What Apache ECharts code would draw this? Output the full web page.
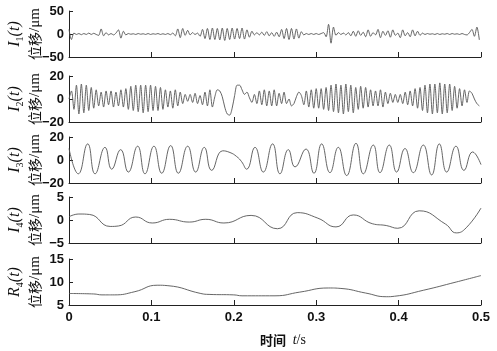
<!DOCTYPE html>
<html><head><meta charset="utf-8">
<script src="https://cdn.jsdelivr.net/npm/echarts@6/dist/echarts.min.js"></script>
<style>html,body{margin:0;padding:0;background:#fff}#c{width:497px;height:351px}</style>
</head><body><div id="c"></div>
<script>
// ---- data ----
// panel 1: I1(t), sampled every 3 ms
const step1 = 0.003;
const v1 = [10,-12,2,-1,1,-1.5,1,-1,2,-1,1.5,-1,-3,11,-4,3,-2,1,-2,2,9,-9,6,-2,
  1,-0.5,0.5,-1,1,-0.5,0.5,-1,1,-1,0.5,-0.5,1,-1,0.5,-1,1,-1.5,2,
  -4,11,-8,12,-3,8,-2,3,-1,2,-5,
  10,-10,12,-12,13,-12,12,-13,13,-14,12,-12,13,-11,12,-10,13,-11,9,-7,6,
  -2,3,-2,4,-3,5,-4,3,-5,4,
  -6,10,-10,12,-12,12,-11,11,-9,
  5,-2,1,-1,1,-1,1,-1,1,
  3,-6,21,-20,15,-3,3,
  -1,2,-2,3,-4,6,
  -5,7,-3,4,-6,9,-5,3,-2,10,-8,6,-3,7,-7,9,-3,2,-8,9,-4,3,-6,9,-4,6,-3,2,
  -1,1,-0.5,0.5,-1,1,-1,0.5,-0.5,1,-1,1,-0.5,0.5,-1,1,-1,
  -2,3,10,-5,15,-13];
// panel 2: I2(t), sampled every 3 ms
const step2 = 0.003;
const v2 = [0,7,-9,12,-13,13,-12,12,-10,10,-8,8,-6,6,-7,7,-5,7,-7,6,
  -6,8,-7,9,-9,11,-10,12,-11,12,-12,12,-11,12,-10,11,-10,10,-9,8,
  -7,7,-8,8,-6,6,-4,4,-2,4,-3,5,-4,3,-5,6,-6,8,-7,2,
  8,7,2,-7,-13,-14,-8,3,12,12,8,4,6,1,-3,4,-4,7,-5,8,
  -6,7,-6,8,-6,5,-4,6,-4,0,-6,-4,2,6,3,-5,7,-7,8,-8,
  9,-8,9,-9,10,-10,12,-11,13,-12,12,-13,13,-11,12,-12,10,-9,11,-8,
  10,-7,8,-6,7,-6,8,-7,6,-4,5,-3,4,-3,4,-4,6,-5,7,-6,
  9,-8,10,-10,12,-12,13,-13,13,-12,14,-13,13,-12,13,-10,11,-8,9,-6,
  8,-3,7,5,0,-4,-6];
// panel 3: I3(t), extrema (ms, µm)
const t3 = [0,11.3,22.7,31.6,43.7,51.8,62.7,72,83.3,92.2,103.1,112.5,123.4,132.7,144,153.7,164.2,173.1,186.5,195.4,203.5,209.5,215.6,225.7,235.8,247.1,256,266.2,274.3,287.6,297.3,306.6,316.7,326.8,337,348.3,357.2,369.3,377.4,388.7,397.6,407.7,417.9,430,440.1,449.4,458.3,469.6,479.3,489.8,500];
const v3 = [10,-12,14,-12,11,-8,9,-10.5,12,-12,12,-11.5,12.5,-11.5,12,-10.5,11,-9,8,6.5,3,-1.5,-8,11,-10.5,14,-12,9,-6,9.5,-11.5,14,-11,11,-13.5,14.5,-12,13,-11,13,-10.5,10,-11,13,-13,14,-10.5,12,-9,7,-4];
// panel 4: I4(t)
const t4 = [0,12,25,50,60,81,101,122,146,166,188,221,253,277,302,324,345,368,385,399,425,457,470,482,500];
const v4 = [0.7,1.3,1.2,-1.4,-1.3,0.65,-0.65,0.15,-0.45,0.15,-0.65,1.0,-1.9,1.6,0.4,-1.5,1.1,-0.8,-1.2,-1.8,2.0,-0.9,-2.8,-1.7,2.6];
// panel 5: R4(t)
const t5 = [0,30,40,55,80,107,120,160,170,200,210,250,280,315,330,360,385,395,430,470,500];
const v5 = [7.5,7.4,7.2,7.2,7.9,9.3,9.2,7.5,7.3,7.2,7.0,7.0,7.8,8.7,8.6,7.6,6.8,6.9,8.2,10.0,11.4];
// axes
const yMin = [-50,-20,-20,-5,5];
const yMax = [50,20,20,5,15];
const yStep = [50,20,20,5,5];
const yNames = [['I','1'],['I','2'],['I','3'],['I','4'],['R','4']];

// ---- build ----
const tops = [11,76,137,197,259];
const H = 46;
const lineCol = '#222';
const grid = [], xAxis = [], yAxis = [], series = [];
const seriesData = [
  v1.map((v,i)=>[i*step1, v]),
  v2.map((v,i)=>[i*step2, v]),
  v3.map((v,i)=>[t3[i]/1000, v]),
  v4.map((v,i)=>[t4[i]/1000, v]),
  v5.map((v,i)=>[t5[i]/1000, v])
];
const fmt = v => v < 0 ? '\u2212' + Math.abs(v) : String(v);
for (let k = 0; k < 5; k++) {
  grid.push({left: 69, right: 16, top: tops[k], height: H, containLabel: false, outerBoundsMode: 'none'});
  xAxis.push({
    type: 'value', gridIndex: k, min: 0, max: 0.5, interval: 0.1,
    axisLine: {show: true, onZero: false, lineStyle: {color: lineCol, width: 1}},
    axisTick: {show: true, inside: true, length: 5, lineStyle: {color: lineCol}},
    splitLine: {show: false},
    axisLabel: {show: k === 4, margin: 6, color: '#111', fontSize: 13, fontWeight: 'bold',
      fontFamily: 'Liberation Sans, Arial, sans-serif', formatter: v => String(+v.toFixed(1))},
    name: k === 4 ? '{c|时间}  {i|t}{n|/s}' : '',
    nameLocation: 'middle', nameGap: 28, nameMoveOverlap: false,
    nameTextStyle: {rich: {
      c: {fontFamily: 'Noto Sans CJK SC', fontSize: 13, fontWeight: 'bold', color: '#111', padding: [0,0,0,16]},
      i: {fontFamily: 'Liberation Serif', fontStyle: 'italic', fontSize: 14, color: '#111'},
      n: {fontFamily: 'Liberation Serif', fontSize: 14, color: '#111'}
    }}
  });
  yAxis.push({
    type: 'value', gridIndex: k, min: yMin[k], max: yMax[k], interval: yStep[k],
    axisLine: {show: true, lineStyle: {color: lineCol, width: 1}},
    axisTick: {show: true, inside: true, length: 4, lineStyle: {color: lineCol}},
    splitLine: {show: false},
    axisLabel: {show: true, margin: 5, color: '#111', fontSize: 13, fontWeight: 'bold',
      fontFamily: 'Liberation Sans, Arial, sans-serif', formatter: fmt},
    name: '{i|' + yNames[k][0] + '}{s|' + yNames[k][1] + '}{i|(t)}\n{c|位移}{u|/μm}',
    nameLocation: 'middle', nameRotate: 90, nameGap: 24, nameMoveOverlap: false,
    nameTextStyle: {rich: {
      i: {fontFamily: 'Liberation Serif', fontStyle: 'italic', fontSize: 16, lineHeight: 20, verticalAlign: 'middle', color: '#111'},
      s: {fontFamily: 'Liberation Serif', fontSize: 10, lineHeight: 10, verticalAlign: 'bottom', color: '#111'},
      c: {fontFamily: 'Noto Sans CJK SC', fontSize: 14, lineHeight: 20, color: '#111'},
      u: {fontFamily: 'Liberation Serif', fontSize: 15, lineHeight: 20, color: '#111'}
    }}
  });
  series.push({
    type: 'line', xAxisIndex: k, yAxisIndex: k, data: seriesData[k],
    showSymbol: false, smooth: k >= 2 ? 0.5 : 0.3, animation: false,
    lineStyle: {color: '#555', width: 0.9}
  });
}
const chart = echarts.init(document.getElementById('c'), null, {renderer: 'canvas'});
chart.setOption({animation: false, backgroundColor: '#fff', grid, xAxis, yAxis, series});
</script></body></html>
